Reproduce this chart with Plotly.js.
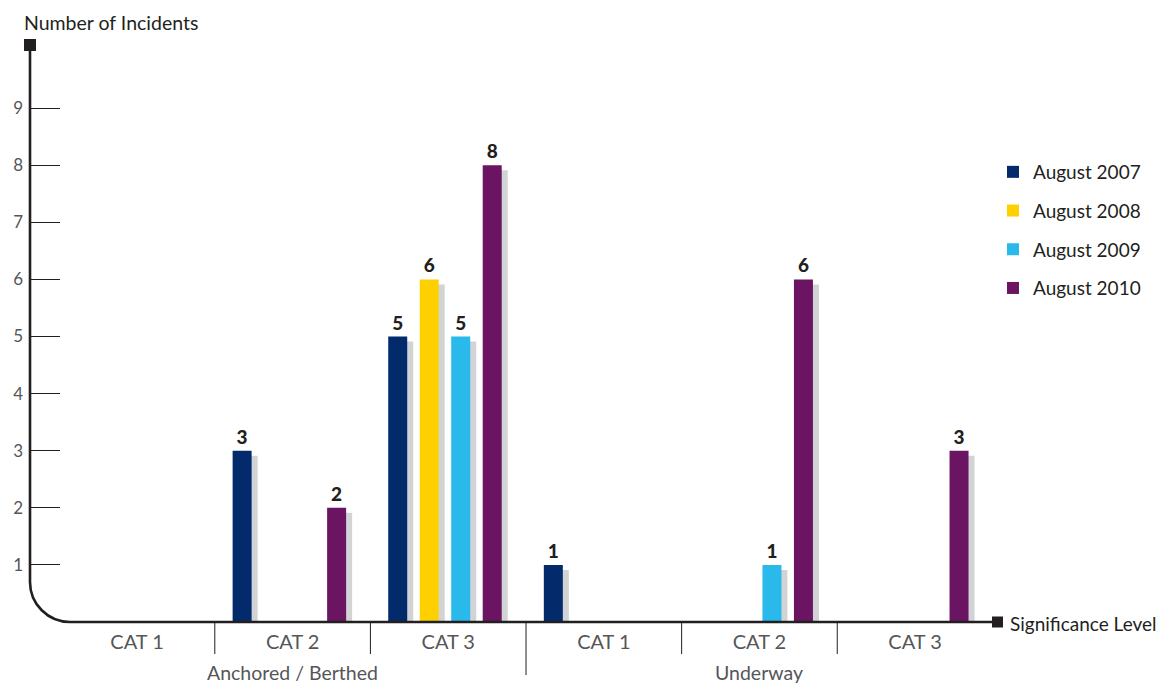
<!DOCTYPE html>
<html>
<head>
<meta charset="utf-8">
<script src="https://cdn.plot.ly/plotly-3.0.1.min.js"></script>
<style>
  html, body { margin: 0; padding: 0; background: #ffffff; }
  #chart { width: 1160px; height: 684px; }
</style>
</head>
<body>
<div id="chart"></div>
<script>
// Incidents by significance level, split by vessel state
const categories = ['CAT 1', 'CAT 2', 'CAT 3', 'CAT 1', 'CAT 2', 'CAT 3'];
const groupLabels = ['Anchored / Berthed', 'Underway'];
const seriesNames = ['August 2007', 'August 2008', 'August 2009', 'August 2010'];
const aug2007 = [0, 3, 5, 1, 0, 0];
const aug2008 = [0, 0, 6, 0, 0, 0];
const aug2009 = [0, 0, 5, 0, 1, 0];
const aug2010 = [0, 2, 8, 0, 6, 3];
const yTicks = [1, 2, 3, 4, 5, 6, 7, 8, 9];

const seriesValues = [aug2007, aug2008, aug2009, aug2010];
const seriesColors = ['#032b6c', '#ffd000', '#29b9ea', '#6a1462'];

const FONT = 'Lato, "Open Sans", sans-serif';
const INK = '#231f20';
const GREY_TEXT = '#555658';

// plot frame (pixels)
const M = { l: 30, r: 167, t: 45, b: 62 };
const plotW = 1160 - M.l - M.r;   // 963
const plotH = 684 - M.t - M.b;    // 577
const xRange = [-0.6877, 5.501];
const yRange = [0, 10.105];
const pxPerX = plotW / (xRange[1] - xRange[0]);
const pxPerY = plotH / (yRange[1] - yRange[0]);

// bar geometry inside each category slot (data units)
const barWidth = 19 / pxPerX;
const slot = 31.5 / pxPerX;
const firstOffset = -60 / pxPerX;
const shadowDx = 6 / pxPerX;
const shadowDy = 5 / pxPerY;

const xPos = categories.map((_, i) => i);
const traces = [];

// drop shadows behind each bar
seriesValues.forEach((vals, s) => {
  traces.push({
    type: 'bar',
    x: xPos,
    y: vals.map(v => (v > 0 ? v - shadowDy : null)),
    offset: firstOffset + s * slot + shadowDx,
    width: barWidth,
    marker: { color: '#d2d3d5', line: { width: 0 } },
    legendgroup: seriesNames[s],
    showlegend: false,
    hoverinfo: 'skip'
  });
});

// coloured bars with value labels
seriesValues.forEach((vals, s) => {
  traces.push({
    type: 'bar',
    name: seriesNames[s],
    x: xPos,
    y: vals.map(v => (v > 0 ? v : null)),
    text: vals.map(v => (v > 0 ? String(v) : '')),
    textposition: 'outside',
    cliponaxis: false,
    textfont: { family: FONT, size: 19, color: INK, weight: 900 },
    offset: firstOffset + s * slot,
    width: barWidth,
    marker: { color: seriesColors[s], line: { width: 0 } },
    legendgroup: seriesNames[s],
    hoverinfo: 'skip'
  });
});

// axis line with rounded corner and square end caps (pixel path from plot origin)
const axisTop = plotH;
const axisRight = 962;
const cornerR = 40;
const kappa = 0.5523 * cornerR;
const axisPath = [
  'M0,' + axisTop,
  'V' + cornerR,
  'C0,' + (cornerR - kappa) + ' ' + (cornerR - kappa) + ',0 ' + cornerR + ',0',
  'H' + axisRight
].join(' ');

const shapes = [
  {
    type: 'path', xref: 'paper', yref: 'paper',
    xsizemode: 'pixel', ysizemode: 'pixel', xanchor: 0, yanchor: 0,
    path: axisPath,
    line: { color: INK, width: 2.6 }, fillcolor: 'rgba(0,0,0,0)', layer: 'above'
  },
  {
    type: 'rect', xref: 'paper', yref: 'paper',
    xsizemode: 'pixel', ysizemode: 'pixel', xanchor: 0, yanchor: 0,
    x0: -6, x1: 6, y0: axisTop - 6, y1: axisTop + 6,
    line: { width: 0 }, fillcolor: INK, layer: 'above'
  },
  {
    type: 'rect', xref: 'paper', yref: 'paper',
    xsizemode: 'pixel', ysizemode: 'pixel', xanchor: 0, yanchor: 0,
    x0: axisRight, x1: axisRight + 11, y0: -5.5, y1: 5.5,
    line: { width: 0 }, fillcolor: INK, layer: 'above'
  }
];

// separators between categories, longer one between the two groups
for (let i = 0; i < categories.length - 1; i++) {
  const between = (i === 2);
  shapes.push({
    type: 'line', xref: 'x', yref: 'paper',
    ysizemode: 'pixel', yanchor: 0,
    x0: i + 0.5, x1: i + 0.5, y0: 0, y1: between ? -53 : -32,
    line: { color: INK, width: 1 }
  });
}

const annotations = [
  {
    text: 'Number of Incidents', xref: 'paper', yref: 'paper',
    x: -8 / plotW, y: 1, xanchor: 'left', yanchor: 'middle', yshift: 23,
    showarrow: false, font: { family: FONT, size: 19.5, color: INK }
  },
  {
    text: 'Significance Level', xref: 'paper', yref: 'paper',
    x: (axisRight + 16) / plotW, y: 0, xanchor: 'left', yanchor: 'middle', yshift: -1,
    showarrow: false, font: { family: FONT, size: 19, color: INK }
  }
];
groupLabels.forEach((g, i) => {
  annotations.push({
    text: g, xref: 'x', yref: 'paper', x: 1 + i * 3, y: 0,
    xanchor: 'center', yanchor: 'middle', yshift: -50,
    showarrow: false, font: { family: FONT, size: 19.5, color: GREY_TEXT }
  });
});

const layout = {
  width: 1160,
  height: 684,
  margin: M,
  paper_bgcolor: '#ffffff',
  plot_bgcolor: '#ffffff',
  barmode: 'overlay',
  showlegend: true,
  legend: {
    x: (993 - M.l) / plotW, y: (622 - 153) / plotH,
    xanchor: 'left', yanchor: 'top',
    font: { family: FONT, size: 19, color: INK },
    tracegroupgap: 11,
    bgcolor: 'rgba(0,0,0,0)'
  },
  xaxis: {
    range: xRange,
    tickvals: xPos,
    ticktext: categories,
    ticks: '',
    ticklabelstandoff: 6,
    showline: false, showgrid: false, zeroline: false,
    tickfont: { family: FONT, size: 20, color: GREY_TEXT },
    fixedrange: true
  },
  yaxis: {
    range: yRange,
    tickvals: yTicks,
    ticktext: yTicks.map(String),
    ticks: 'inside', ticklen: 30, tickwidth: 1, tickcolor: INK,
    ticklabelstandoff: 6,
    showline: false, showgrid: false, zeroline: false,
    tickfont: { family: FONT, size: 17, color: GREY_TEXT },
    fixedrange: true
  },
  shapes: shapes,
  annotations: annotations,
  font: { family: FONT }
};

Plotly.newPlot('chart', traces, layout, { displayModeBar: false, staticPlot: true });
</script>
</body>
</html>
